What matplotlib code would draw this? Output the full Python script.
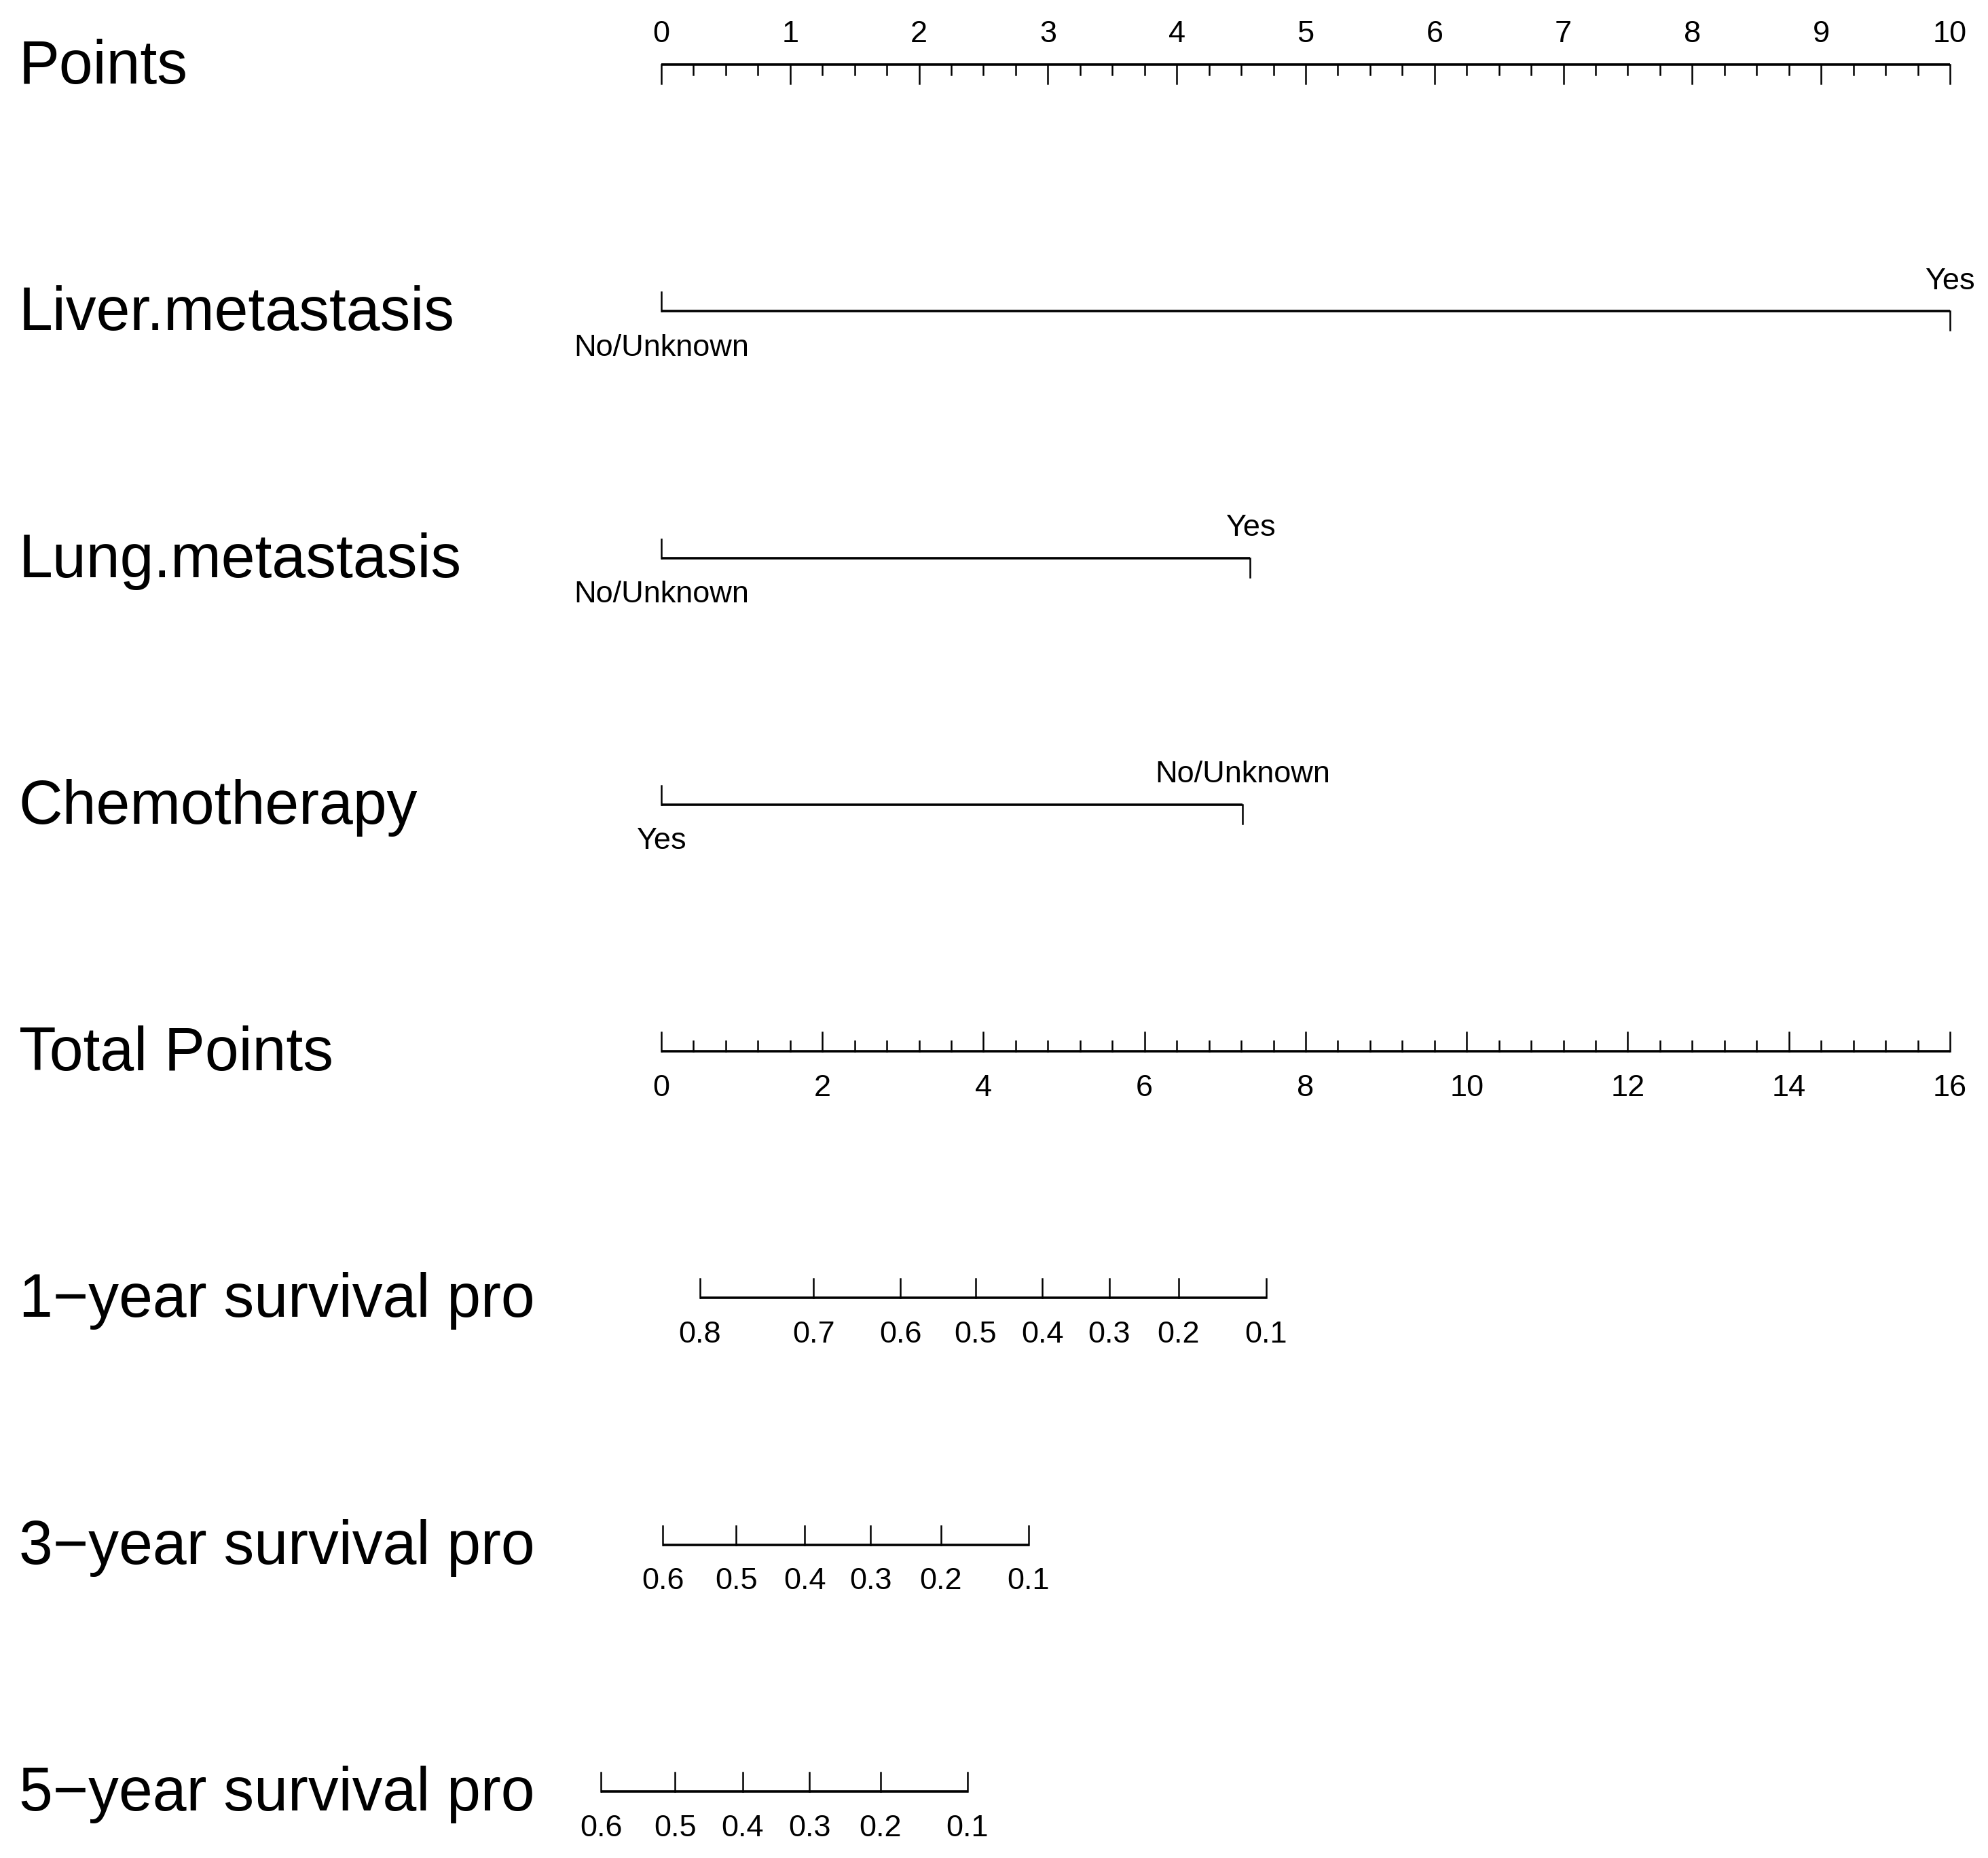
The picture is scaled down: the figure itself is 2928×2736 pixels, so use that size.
import matplotlib.pyplot as plt
import numpy as np

plt.rcParams['font.family'] = ['Liberation Sans', 'DejaVu Sans']

# data
row_names = ["Points", "Liver.metastasis", "Lung.metastasis", "Chemotherapy",
             "Total Points", "1\u2212year survival pro", "3\u2212year survival pro",
             "5\u2212year survival pro"]

points_major = np.arange(0, 11, 1)
points_minor = np.arange(0, 10.01, 0.25)

liver_levels = ["No/Unknown", "Yes"]
liver_points = [0, 10]
lung_levels = ["No/Unknown", "Yes"]
lung_points = [0, 4.57]
chemo_levels = ["Yes", "No/Unknown"]
chemo_points = [0, 4.51]

total_major = np.arange(0, 17, 2)
total_minor = np.arange(0, 16.01, 0.4)
total_max = 16

surv1_labels = ["0.8", "0.7", "0.6", "0.5", "0.4", "0.3", "0.2", "0.1"]
surv1_total = [0.48, 1.89, 2.97, 3.90, 4.73, 5.56, 6.42, 7.51]
surv3_labels = ["0.6", "0.5", "0.4", "0.3", "0.2", "0.1"]
surv3_total = [0.02, 0.93, 1.78, 2.60, 3.47, 4.56]
surv5_labels = ["0.6", "0.5", "0.4", "0.3", "0.2", "0.1"]
surv5_total = [-0.75, 0.17, 1.01, 1.84, 2.72, 3.80]

W, H = 2928, 2736
fig = plt.figure(figsize=(W / 100, H / 100), dpi=100)
ax = fig.add_axes([0, 0, 1, 1])
ax.axis('off')

# x in "Points" units, y in row index (0 = top row)
px_per_pt = (2872 - 974) / 10
ax.set_xlim(-974 / px_per_pt, (W - 974) / px_per_pt)
px_per_row = (2638 - 95) / 7
ax.set_ylim((H - 95) / px_per_row, -95 / px_per_row)

lw = 2.6
tlw = 1.8
big = 28 / px_per_row
small = 15 / px_per_row
off_up = 44 / px_per_row
off_dn = 54 / px_per_row
fs_lab = 64.5
fs_tick = 32.5
lab_x = -974 / px_per_pt + 28 / px_per_pt

for i, name in enumerate(row_names):
    ax.text(lab_x, i + 28 / px_per_row, name, fontsize=fs_lab, ha='left', va='baseline')

# Points scale (ticks down, labels above)
ax.plot([0, 10], [0, 0], color='black', lw=lw, solid_capstyle='butt')
for v in points_minor:
    ln = big if abs(v - round(v)) < 1e-9 else small
    ax.plot([v, v], [0, ln], color='black', lw=tlw)
for v in points_major:
    ax.text(v, -off_up, str(v), fontsize=fs_tick, ha='center', va='center')


def cat_row(r, levels, pts):
    ax.plot([pts[0], pts[-1]], [r, r], color='black', lw=lw, solid_capstyle='butt')
    for k, (lev, p) in enumerate(zip(levels, pts)):
        sign = -1 if k % 2 == 0 else 1
        ax.plot([p, p], [r, r + sign * big], color='black', lw=tlw)
        y = r + off_dn if sign < 0 else r - off_up
        ax.text(p, y, lev, fontsize=fs_tick, ha='center', va='center')


cat_row(1, liver_levels, liver_points)
cat_row(2, lung_levels, lung_points)
cat_row(3, chemo_levels, chemo_points)

# Total points scale (ticks up, labels below)
scale = 10 / total_max
ax.plot([0, 10], [4, 4], color='black', lw=lw, solid_capstyle='butt')
for v in total_minor:
    ln = big if abs(v / 2 - round(v / 2)) < 1e-9 else small
    ax.plot([v * scale, v * scale], [4, 4 - ln], color='black', lw=tlw)
for v in total_major:
    ax.text(v * scale, 4 + off_dn, str(v), fontsize=fs_tick, ha='center', va='center')


def surv_row(r, labels, tot):
    xs = [t * scale for t in tot]
    ax.plot([xs[0], xs[-1]], [r, r], color='black', lw=lw, solid_capstyle='butt')
    for x, lab in zip(xs, labels):
        ax.plot([x, x], [r, r - big], color='black', lw=tlw)
        ax.text(x, r + off_dn, lab, fontsize=fs_tick, ha='center', va='center')


surv_row(5, surv1_labels, surv1_total)
surv_row(6, surv3_labels, surv3_total)
surv_row(7, surv5_labels, surv5_total)

fig.savefig('out.png', dpi=100, facecolor='white')
